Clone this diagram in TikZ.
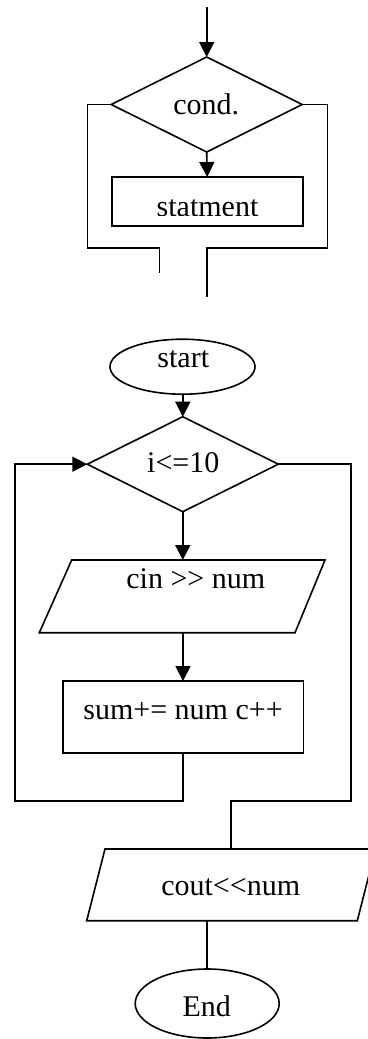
\documentclass[tikz,border=0pt]{standalone}
\usepackage{fontspec}
\setmainfont{Liberation Serif}
\usetikzlibrary{shapes.geometric,arrows.meta}
\begin{document}
\begin{tikzpicture}[x=1pt,y=-1pt,
  line width=1.6pt,
  every node/.style={inner sep=0pt,outer sep=0pt},
  shp/.style={draw},
  lbl/.style={anchor=base,font=\fontsize{30}{36}\selectfont},
  arr/.style={-{Triangle[length=15pt,width=15pt]}}]
\useasboundingbox (0,0) rectangle (367,1039);
% --- top generic loop diagram ---
\coordinate (topin) at (206.7,7);
\node[shp,diamond,minimum width=191pt,minimum height=95pt] (c) at (206.7,104.5) {};
\node[shp,rectangle,minimum width=191pt,minimum height=48.7pt] (st) at (207.2,201.4) {};
\node[lbl] (clbl) at (206.3,114.3) {cond.};
\begin{scope}
  \clip (111.7,177) rectangle (302.7,215);
  \node[lbl] (stlbl) at (207.5,216.5) {statment};
\end{scope}
\coordinate (tl) at (87.3,248);
\coordinate (tl2) at (159.3,248);
\coordinate (tl3) at (159.3,273);
\coordinate (tr) at (327.3,248);
\coordinate (tr2) at (206.7,248);
\coordinate (tr3) at (206.7,296.7);
\draw[arr] (topin) -- (c.north);
\draw[arr] (c.south) -- (st.north);
\draw (c.west) -| (tl) -- (tl2) -- (tl3);
\draw (c.east) -| (tr) -- (tr2) -- (tr3);
% --- flowchart ---
\node[shp,ellipse,minimum width=145pt,minimum height=55pt] (start) at (182.5,366.7) {};
\node[lbl] (startlbl) at (183.3,367.7) {start};
\node[shp,diamond,minimum width=191pt,minimum height=95pt] (d2) at (182.8,464.2) {};
\node[lbl] (d2lbl) at (183.3,472.7) {i<=10};
% parallelogram cin
\coordinate (p1tl) at (71.7,560);
\coordinate (p1tr) at (325,560);
\coordinate (p1br) at (295,632.7);
\coordinate (p1bl) at (39.3,632.7);
\draw (p1tl) -- (p1tr) -- (p1br) -- (p1bl) -- cycle;
\node[lbl] (p1lbl) at (195.8,588) {cin >{}> num};
\node[shp,rectangle,minimum width=240.6pt,minimum height=71.7pt] (sum) at (183,716.9) {};
\node[lbl] (sumlbl) at (183,719) {sum+= num c++};
% parallelogram cout
\coordinate (p2tl) at (105,849);
\coordinate (p2tr) at (375.6,849);
\coordinate (p2br) at (357.3,920.7);
\coordinate (p2bl) at (86.7,920.7);
\draw (p2tl) -- (p2tr) -- (p2br) -- (p2bl) -- cycle;
\node[lbl] (p2lbl) at (230.7,895.7) {cout<{}<num};
\node[shp,ellipse,minimum width=144pt,minimum height=69pt] (e) at (207.2,1003.5) {};
\node[lbl] (elbl) at (206.7,1016) {End};
\coordinate (lb) at (14.7,801);
\coordinate (rb) at (351,801);
\coordinate (rc) at (231,801);
\draw[arr] (start.south -| d2.north) -- (d2.north);
\draw[arr] (d2.south) -- (d2.south |- p1tl);
\draw[arr] (sum.north |- p1bl) -- (sum.north);
\draw[arr] (sum.south) |- (lb) |- (d2.west);
\draw (d2.east) -| (rb) -- (rc) -- (rc |- p2tl);
\draw (e.north) -- (e.north |- p2bl);
\end{tikzpicture}
\end{document}
